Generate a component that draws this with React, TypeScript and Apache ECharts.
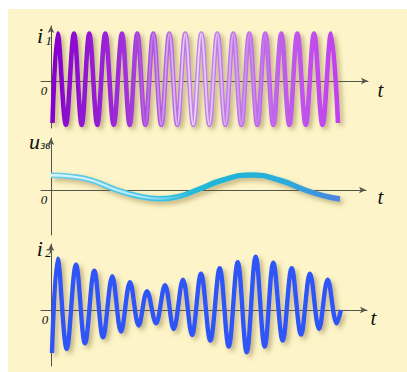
import React, { useEffect, useRef } from 'react';
import * as echarts from 'echarts';

// Panel 1: carrier current i1 (time units, value units)
const i1Times = [1.5, 6.7, 14.9, 23, 30.7, 38.3, 46.3, 54.3, 62.7, 71, 78.7, 86.3, 94.3, 102.3, 110.3, 118.3, 126.3, 134.3, 142.3, 150.3, 158.3, 166.3, 174.3, 182.3, 190.3, 198.3, 206.3, 214.3, 222.3, 230.3, 238.3, 246.3, 254.7, 263, 271.5, 280, 287];
const i1Values = [-42, 47.5, -44, 47.5, -44, 47.5, -44, 47.5, -44, 47.5, -44, 47.5, -44, 47.5, -44, 47.5, -44, 47.5, -44, 47.5, -44, 47.5, -44, 47.5, -44, 47.5, -44, 47.5, -44, 47.5, -44, 47.5, -44, 47.5, -44, 47.5, -42];

// Panel 2: modulating voltage u_зв
const uTimes = [0, 20, 40, 64, 88, 109, 128, 146, 172, 200, 228, 254, 274, 289];
const uValues = [14.8, 13.6, 9.8, 0.7, -6.2, -8.7, -6.4, 0, 10, 15, 10, 0, -6.2, -9];

// Panel 3: modulated current i2
const i2Times = [1, 6.7, 15.7, 25, 34, 43.3, 52, 61.3, 70, 79, 87.7, 96, 105, 114, 122.7, 132, 141, 150, 159.3, 168.7, 177.7, 186.7, 195.7, 204.7, 213.7, 222.3, 231.7, 240.7, 250, 259, 268, 276.7, 285.7, 290];
const i2Values = [-43, 51.4, -39, 45.4, -33.3, 39.4, -27.3, 33.7, -21.6, 27.7, -15.6, 18.7, -13.3, 24.7, -19, 30.4, -25, 36.4, -30.6, 41.7, -36.6, 47.7, -42.3, 53.4, -36.6, 47.4, -30.6, 41.7, -24.6, 36.4, -19, 30.4, -13.3, 0];

const axisLabels = ['i', '1', 'u', 'зв', 'i', '2'];
const originLabel = '0';
const timeLabel = 't';

const pairs = (ts: number[], vs: number[]) => ts.map((t, k) => [t, vs[k]]);

const lin = (stops: [number, string][]) => ({
  type: 'linear',
  x: 0,
  y: 0,
  x2: 1,
  y2: 0,
  colorStops: stops.map(([offset, color]) => ({ offset, color })),
});

const shadow = {
  shadowColor: 'rgba(120,95,40,0.45)',
  shadowBlur: 5,
  shadowOffsetX: 3,
  shadowOffsetY: 3,
};

const axisLineStyle = { color: '#55554a', width: 1 };

function makeX(idx: number, max: number) {
  return {
    type: 'value',
    gridIndex: idx,
    min: -10,
    max,
    axisLine: { show: true, onZero: true, symbol: ['none', 'arrow'], symbolSize: [5, 7], lineStyle: axisLineStyle },
    axisTick: { show: false },
    axisLabel: { show: false },
    splitLine: { show: false },
  };
}
function makeY(idx: number, min: number, max: number) {
  return {
    type: 'value',
    gridIndex: idx,
    min,
    max,
    axisLine: { show: true, onZero: true, symbol: ['none', 'arrow'], symbolSize: [5, 7], lineStyle: axisLineStyle },
    axisTick: { show: false },
    axisLabel: { show: false },
    splitLine: { show: false },
  };
}

const serif = "italic 400 {s}px 'Liberation Serif', 'DejaVu Serif', serif";
const f = (s: number) => serif.replace('{s}', String(s));

function txt(text: string, x: number, y: number, size: number, align: string = 'left') {
  return {
    type: 'text',
    x,
    y,
    silent: true,
    style: { text, font: f(size), fill: '#111', align, verticalAlign: 'middle' },
  };
}

export default function App() {
  const ref = useRef<HTMLDivElement>(null);
  useEffect(() => {
    if (!ref.current) return;
    const chart = echarts.init(ref.current, undefined, { renderer: 'svg' });
    const base = { type: 'line', showSymbol: false, silent: true, clip: false, animation: false };
    chart.setOption({
      animation: false,
      grid: [
        { left: 41, top: 26, width: 327, height: 102 },
        { left: 41, top: 138, width: 325, height: 97 },
        { left: 41, top: 244, width: 326, height: 122 },
      ],
      xAxis: [makeX(0, 317), makeX(1, 315), makeX(2, 316)],
      yAxis: [makeY(0, -47, 55), makeY(1, -45, 52), makeY(2, -56, 66)],
      graphic: [
        { type: 'rect', z: -10, silent: true, shape: { x: 8, y: 9, width: 399, height: 363 }, style: { fill: '#fdf5c9' } },
        txt(axisLabels[0], 37, 35.5, 22),
        txt(axisLabels[1], 45.5, 40.6, 13),
        txt(originLabel, 44, 90.6, 13, 'center'),
        txt(timeLabel, 380.5, 90.3, 21, 'center'),
        txt(axisLabels[2], 29, 141, 22),
        txt(axisLabels[3], 40.5, 145.3, 12),
        txt(originLabel, 44, 199.6, 13, 'center'),
        txt(timeLabel, 380.5, 196.6, 21, 'center'),
        txt(axisLabels[4], 36.7, 248.3, 22),
        txt(axisLabels[5], 45, 252.5, 13),
        txt(originLabel, 45, 319, 13, 'center'),
        txt(timeLabel, 373.3, 318.3, 21, 'center'),
      ],
      series: [
        {
          ...base,
          xAxisIndex: 0,
          yAxisIndex: 0,
          smooth: 0.36,
          data: pairs(i1Times, i1Values),
          lineStyle: {
            width: 4.6,
            color: lin([[0, '#8500cc'], [0.25, '#a030d8'], [0.5, '#c287e6'], [0.7, '#bd6ee8'], [1, '#c23ff0']]),
            ...shadow,
          },
        },
        {
          ...base,
          xAxisIndex: 0,
          yAxisIndex: 0,
          smooth: 0.36,
          data: pairs(i1Times, i1Values),
          lineStyle: {
            width: 1.8,
            color: lin([[0, 'rgba(240,215,252,0)'], [0.28, 'rgba(240,215,252,0)'], [0.5, 'rgba(240,215,252,1)'], [0.68, 'rgba(240,215,252,0.3)'], [0.8, 'rgba(240,215,252,0)'], [1, 'rgba(240,215,252,0)']]),
          },
        },
        {
          ...base,
          xAxisIndex: 1,
          yAxisIndex: 1,
          smooth: 0.5,
          data: pairs(uTimes, uValues),
          lineStyle: {
            width: 5.5,
            color: lin([[0, '#6ccbe9'], [0.35, '#3cc0e0'], [0.55, '#1fb8d6'], [0.8, '#2aaed9'], [1, '#4a84e0']]),
            ...shadow,
          },
        },
        {
          ...base,
          xAxisIndex: 1,
          yAxisIndex: 1,
          smooth: 0.5,
          data: pairs(uTimes, uValues),
          lineStyle: {
            width: 2.4,
            color: lin([[0, 'rgba(215,246,253,1)'], [0.3, 'rgba(200,242,252,0.8)'], [0.48, 'rgba(190,240,250,0)'], [1, 'rgba(190,240,250,0)']]),
          },
        },
        {
          ...base,
          xAxisIndex: 2,
          yAxisIndex: 2,
          smooth: 0.36,
          data: pairs(i2Times, i2Values),
          lineStyle: { width: 4.4, color: '#2f55f5', ...shadow },
        },
      ],
    });
    return () => chart.dispose();
  }, []);
  return <div ref={ref} style={{ position: 'absolute', left: 0, top: 0, width: 407, height: 372 }} />;
}
